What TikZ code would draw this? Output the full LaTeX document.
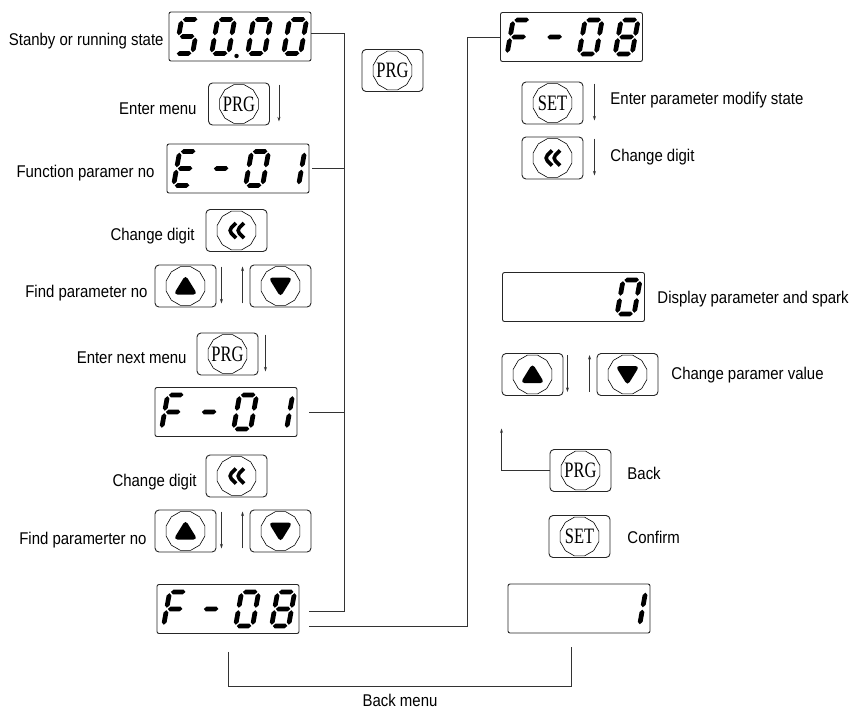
\documentclass[tikz,border=0pt]{standalone}
\usepackage{fontspec}
\setmainfont{Liberation Sans}[FakeStretch=0.88]
\newfontfamily\btnfont{Liberation Serif}[FakeStretch=0.75]
\usetikzlibrary{arrows.meta,calc}

\def\sgW{17}\def\sgH{34}\def\sgT{2.4}\def\sgG{1.2}
\newcommand\hseg[3]{\fill ({#1},{#3}) -- ({#1+\sgT},{#3+\sgT}) -- ({#2-\sgT},{#3+\sgT}) -- ({#2},{#3}) -- ({#2-\sgT},{#3-\sgT}) -- ({#1+\sgT},{#3-\sgT}) -- cycle;}
\newcommand\vseg[3]{\fill ({#3},{#1}) -- ({#3+\sgT},{#1+\sgT}) -- ({#3+\sgT},{#2-\sgT}) -- ({#3},{#2}) -- ({#3-\sgT},{#2-\sgT}) -- ({#3-\sgT},{#1+\sgT}) -- cycle;}
\def\segA{\hseg{\sgG}{\sgW-\sgG}{\sgH}}
\def\segG{\hseg{\sgG}{\sgW-\sgG}{\sgH/2}}
\def\segD{\hseg{\sgG}{\sgW-\sgG}{0}}
\def\segF{\vseg{\sgH/2+\sgG}{\sgH-\sgG}{0}}
\def\segE{\vseg{\sgG}{\sgH/2-\sgG}{0}}
\def\segB{\vseg{\sgH/2+\sgG}{\sgH-\sgG}{\sgW}}
\def\segC{\vseg{\sgG}{\sgH/2-\sgG}{\sgW}}
\newcommand\digitat[3]{%
  \begin{scope}[shift={($(#1.south west)+({7+36*#2},-8)$)},xslant=0.18,yscale=-1]
    \foreach \s in {#3}{\csname seg\s\endcsname}
  \end{scope}}
\newcommand\btnring[1]{\draw[line width=0.6pt, shift={(#1.center)}] plot[samples=13, domain=15:375] ({20*cos(\x)},{20*sin(\x)}) -- cycle;}

\begin{document}
\begin{tikzpicture}[x=1pt,y=-1pt,line width=0.9pt,
  disp/.style={draw=black!85, rounded corners=2pt, minimum width=142pt, minimum height=49pt, inner sep=0pt},
  btn/.style={draw=black!85, rounded corners=4pt, minimum width=61pt, minimum height=42pt, inner sep=0pt, font=\btnfont\fontsize{22}{22}\selectfont},
  upbtn/.style={btn, path picture={\fill[black, shift={(path picture bounding box.center)}] (0,-11) -- (-12,8.5) -- (12,8.5) -- cycle;}},
  downbtn/.style={btn, path picture={\fill[black, shift={(path picture bounding box.center)}] (0,11) -- (-12,-8.5) -- (12,-8.5) -- cycle;}},
  leftbtn/.style={btn, path picture={\draw[black, line width=3.6pt, miter limit=4, shift={(path picture bounding box.center)}] (-0.5,-7.5) -- (-8,0) -- (-0.5,7.5) (7.5,-7.5) -- (0,0) -- (7.5,7.5);}},
  sarr/.style={draw=black!80, -{Stealth[length=4.5pt,width=3pt]}, line width=0.8pt},
  conn/.style={draw=black!80, line width=0.9pt},
  lbl/.style={font=\fontsize{17}{20}\selectfont, inner sep=0pt}]
\useasboundingbox[fill=white] (0,0) rectangle (853,716);

% displays
\node[disp] (d5000) at (240,36.5) {};
\node[disp] (dE01) at (238,168.5) {};
\node[disp] (dF01) at (226,412) {};
\node[disp] (dF08L) at (228,609) {};
\node[disp] (dF08R) at (571.5,37) {};
\node[disp] (d0) at (573.5,297) {};
\node[disp] (d1) at (579,608.5) {};

\digitat{d5000}{0}{A,F,G,C,D}
\digitat{d5000}{1}{A,B,C,D,E,F}
\digitat{d5000}{2}{A,B,C,D,E,F}
\digitat{d5000}{3}{A,B,C,D,E,F}
\fill ($(d5000.south west)+(68,-5.5)$) circle (2.2);

\digitat{dE01}{0}{A,D,E,F,G}
\digitat{dE01}{1}{G}
\digitat{dE01}{2}{A,B,C,D,E,F}
\digitat{dE01}{3}{B,C}

\digitat{dF01}{0}{A,E,F,G}
\digitat{dF01}{1}{G}
\digitat{dF01}{2}{A,B,C,D,E,F}
\digitat{dF01}{3}{B,C}

\digitat{dF08L}{0}{A,E,F,G}
\digitat{dF08L}{1}{G}
\digitat{dF08L}{2}{A,B,C,D,E,F}
\digitat{dF08L}{3}{A,B,C,D,E,F,G}

\digitat{dF08R}{0}{A,E,F,G}
\digitat{dF08R}{1}{G}
\digitat{dF08R}{2}{A,B,C,D,E,F}
\digitat{dF08R}{3}{A,B,C,D,E,F,G}

\digitat{d0}{3}{A,B,C,D,E,F}
\digitat{d1}{3}{B,C}

% buttons
\node[btn] (bPRG1) at (239,104) {PRG};
\node[leftbtn] (bL1) at (236.5,230.5) {};
\node[upbtn] (bU1) at (185.5,286) {};
\node[downbtn] (bD1) at (280.5,286) {};
\node[btn] (bPRG2) at (227.5,354) {PRG};
\node[leftbtn] (bL2) at (236.5,476) {};
\node[upbtn] (bU2) at (185.5,531) {};
\node[downbtn] (bD2) at (280.5,531) {};
\node[btn] (bPRG0) at (392.5,70.5) {PRG};
\node[btn] (bSET1) at (552.5,103) {SET};
\node[leftbtn] (bLR) at (552.5,158) {};
\node[upbtn] (bUR) at (532.5,374.5) {};
\node[downbtn] (bDR) at (627.5,374.5) {};
\node[btn] (bBack) at (580.5,470.5) {PRG};
\node[btn] (bSET2) at (579.5,536.5) {SET};
\foreach \b in {bPRG1,bL1,bU1,bD1,bPRG2,bL2,bU2,bD2,bPRG0,bSET1,bLR,bUR,bDR,bBack,bSET2}{\btnring{\b}}

% small arrows
\draw[sarr] ($(bPRG1.north east)+(9,2)$) -- ($(bPRG1.south east)+(9,-4)$);
\draw[sarr] ($(bU1.north east)+(5,2)$) -- ($(bU1.south east)+(5,-4)$);
\draw[sarr] ($(bD1.south west)+(-7,-4)$) -- ($(bD1.north west)+(-7,2)$);
\draw[sarr] ($(bPRG2.north east)+(7,2)$) -- ($(bPRG2.south east)+(7,-4)$);
\draw[sarr] ($(bU2.north east)+(5,2)$) -- ($(bU2.south east)+(5,-4)$);
\draw[sarr] ($(bD2.south west)+(-7,-4)$) -- ($(bD2.north west)+(-7,2)$);
\draw[sarr] ($(bSET1.north east)+(11,2)$) -- ($(bSET1.south east)+(11,-4)$);
\draw[sarr] ($(bLR.north east)+(11,2)$) -- ($(bLR.south east)+(11,-4)$);
\draw[sarr] ($(bUR.north east)+(4,2)$) -- ($(bUR.south east)+(4,-4)$);
\draw[sarr] ($(bDR.south west)+(-7,-4)$) -- ($(bDR.north west)+(-7,2)$);

% connectors
\coordinate (busTop) at (344,33);
\coordinate (busBot) at (344,611);
\draw[conn] ([yshift=3.5pt]d5000.east) -- (busTop) -- (busBot) -- ([xshift=10pt,yshift=-2pt]dF08L.east);
\draw[conn] ([xshift=3pt]dE01.east) -- (dE01.east -| busTop);
\draw[conn] ([xshift=12pt]dF01.east) -- (dF01.east -| busTop);
\coordinate (busR) at (467,626);
\draw[conn] ([xshift=10pt,yshift=-17pt]dF08L.east) -- (busR) |- (dF08R.west);
\draw[sarr] (bBack.west) -- ++(-48,0) -- ++(0,-42);
\draw[conn] ($(dF08L.south)+(0,18)$) -- ($(dF08L.south)+(0,52)$) -| ($(d1.south)+(-8,14)$);

% labels
\node[lbl, anchor=base east] (t1) at (164,45) {Stanby or running state};
\node[lbl, anchor=base east] (t2) at (197,114) {Enter menu};
\node[lbl, anchor=base east] (t3) at (155,177) {Function paramer no};
\node[lbl, anchor=base east] (t4) at (195,240) {Change digit};
\node[lbl, anchor=base east] (t5) at (148,297) {Find parameter no};
\node[lbl, anchor=base east] (t6) at (187,363) {Enter next menu};
\node[lbl, anchor=base east] (t7) at (197,486) {Change digit};
\node[lbl, anchor=base east] (t8) at (147,544) {Find paramerter no};
\node[lbl, anchor=base] (t9) at (400,706) {Back menu};
\node[lbl, anchor=base west] (t10) at (610,104) {Enter parameter modify state};
\node[lbl, anchor=base west] (t11) at (610,161) {Change digit};
\node[lbl, anchor=base west] (t12) at (657,303) {Display parameter and spark};
\node[lbl, anchor=base west] (t13) at (671,379) {Change paramer value};
\node[lbl, anchor=base west] (t14) at (627,479) {Back};
\node[lbl, anchor=base west] (t15) at (627,543) {Confirm};
\end{tikzpicture}
\end{document}
